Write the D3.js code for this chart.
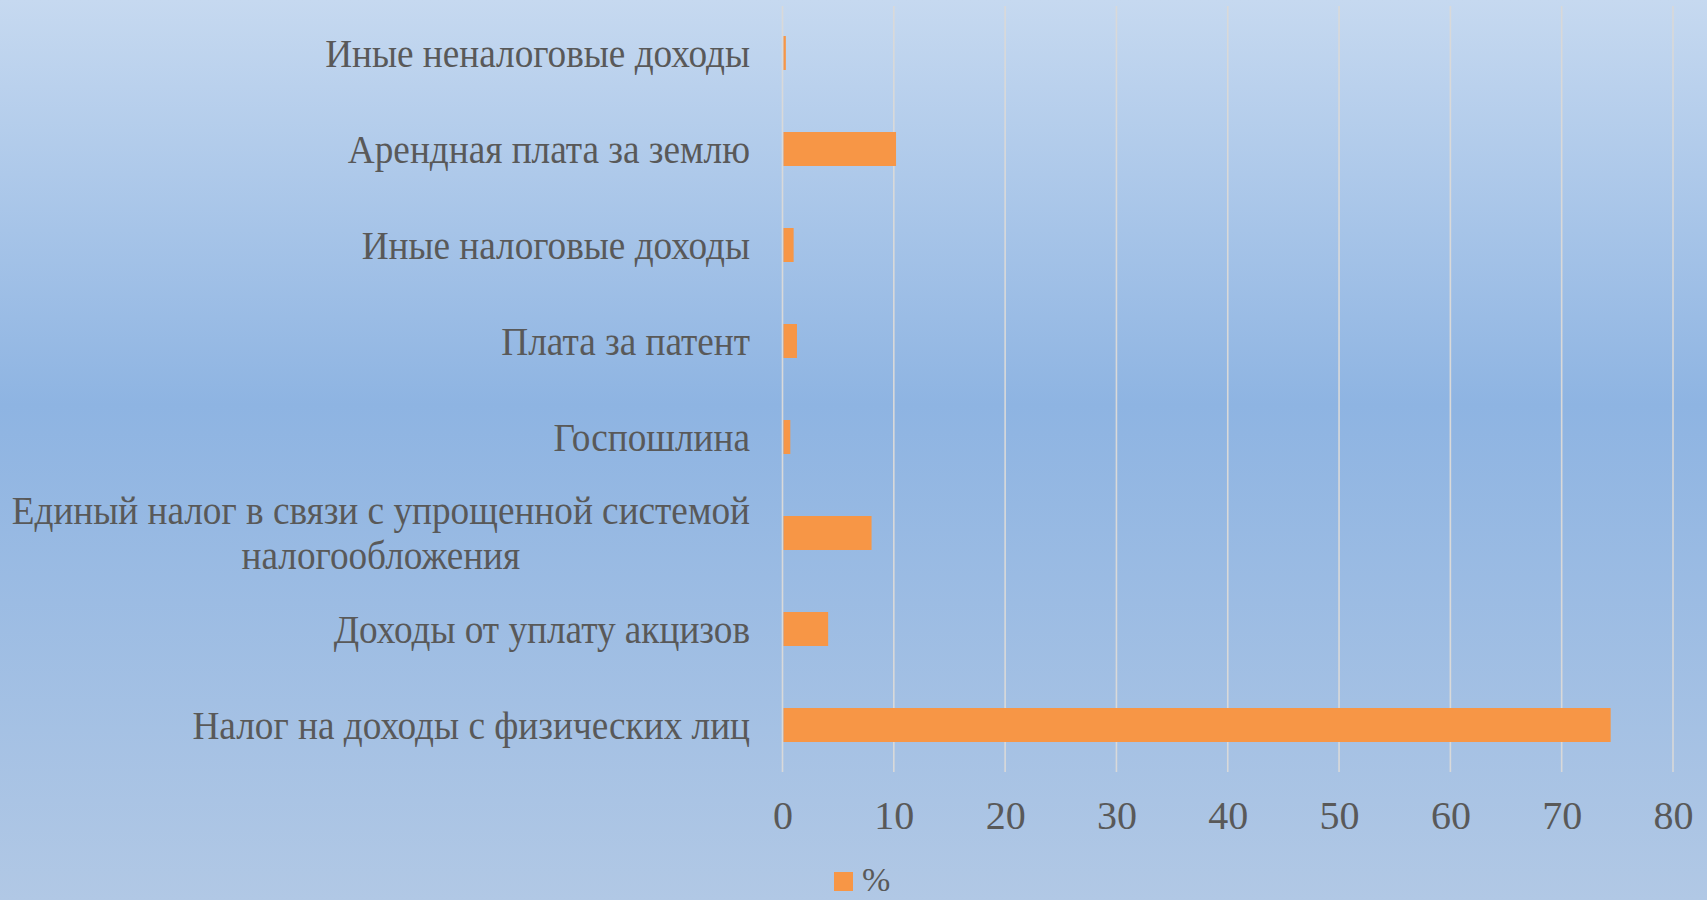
<!DOCTYPE html>
<html>
<head>
<meta charset="utf-8">
<script src="https://cdn.jsdelivr.net/npm/d3@7"></script>
<style>
  html, body { margin: 0; padding: 0; overflow: hidden; }
  .label, .tick text, .legendText { font-family: "Liberation Serif", "Times New Roman", serif; fill: #595959; }
</style>
</head>
<body>
<div class="chart"></div>
<script>
// categories from bottom to top, as in the picture
var categories = [
  "Налог на доходы с физических лиц",
  "Доходы от уплату акцизов",
  "Единый налог в связи с упрощенной системой налогообложения",
  "Госпошлина",
  "Плата за патент",
  "Иные налоговые доходы",
  "Арендная плата за землю",
  "Иные неналоговые доходы"
];
var values = [74.4, 4.1, 8.0, 0.7, 1.3, 1.0, 10.2, 0.3];
var xTicks = [0, 10, 20, 30, 40, 50, 60, 70, 80];
var seriesName = "%";

var svgWidth = 1707;
var svgHeight = 900;

var margin = {
  top: 5,
  right: 34,
  bottom: 127,
  left: 782.5
};

var width = svgWidth - margin.left - margin.right;
var height = svgHeight - margin.top - margin.bottom;

var svg = d3.select(".chart")
  .append("svg")
  .attr("width", svgWidth)
  .attr("height", svgHeight);

// background gradient
var grad = svg.append("defs").append("linearGradient")
  .attr("id", "bg")
  .attr("x1", 0).attr("y1", 0).attr("x2", 0).attr("y2", 1);
grad.append("stop").attr("offset", "0%").attr("stop-color", "#c6d9f0");
grad.append("stop").attr("offset", "45%").attr("stop-color", "#8eb4e2");
grad.append("stop").attr("offset", "100%").attr("stop-color", "#b1c8e5");

svg.append("rect")
  .attr("width", svgWidth)
  .attr("height", svgHeight)
  .attr("fill", "url(#bg)");

var chartGroup = svg.append("g")
  .attr("transform", `translate(${margin.left}, ${margin.top})`);

var data = categories.map(function(c, i) {
  return {cat: c, value: values[i]};
});

var xLinearScale = d3.scaleLinear()
  .domain([0, 80])
  .range([0, width]);

var yBandScale = d3.scaleBand()
  .domain(categories.slice().reverse())
  .range([0, height])
  .paddingInner(0.646)
  .paddingOuter(0.323);

// gridlines
chartGroup.selectAll(".grid")
  .data(xTicks)
  .enter()
  .append("line")
  .attr("class", "grid")
  .attr("x1", d => xLinearScale(d))
  .attr("x2", d => xLinearScale(d))
  .attr("y1", 1)
  .attr("y2", height - 1)
  .attr("stroke", "#d9d9d9")
  .attr("stroke-width", 1.6);

// bars
chartGroup.selectAll(".bar")
  .data(data)
  .enter()
  .append("rect")
  .attr("class", "bar")
  .attr("x", xLinearScale(0) + 1)
  .attr("y", d => yBandScale(d.cat))
  .attr("width", d => xLinearScale(d.value) - xLinearScale(0) - 1)
  .attr("height", yBandScale.bandwidth())
  .attr("fill", "#f79646");

// x axis
var bottomAxis = d3.axisBottom(xLinearScale)
  .tickValues(xTicks)
  .tickSize(0)
  .tickPadding(28);

var xAxis = chartGroup.append("g")
  .attr("transform", `translate(0, ${height})`)
  .call(bottomAxis);
xAxis.select(".domain").remove();
xAxis.selectAll("text")
  .attr("font-size", 40)
  .attr("font-family", null);

// category labels, wrapped and centered as a block
// the original font is a bit narrower than Liberation Serif, so squeeze it
var squeeze = 0.943;
var labelRight = 750 - margin.left;
var maxLabelWidth = 790;
var labelGroup = chartGroup.append("g")
  .attr("transform", `translate(${labelRight}, 0) scale(${squeeze}, 1)`);

var labels = labelGroup.selectAll(".label")
  .data(data)
  .enter()
  .append("text")
  .attr("class", "label")
  .attr("font-size", 39.5);

labels.each(function(d) {
  var el = d3.select(this);
  var words = d.cat.split(" ");
  var lines = [];
  var line = [];
  var tmp = el.append("tspan");
  words.forEach(function(w) {
    line.push(w);
    tmp.text(line.join(" "));
    if (tmp.node().getComputedTextLength() > maxLabelWidth && line.length > 1) {
      line.pop();
      lines.push(line.join(" "));
      line = [w];
    }
  });
  lines.push(line.join(" "));
  tmp.remove();

  var cy = yBandScale(d.cat) + yBandScale.bandwidth() / 2;
  var lineH = 45;
  if (lines.length === 1) {
    el.attr("text-anchor", "end")
      .attr("x", 0)
      .attr("y", cy)
      .attr("dy", "0.35em")
      .text(lines[0]);
  } else {
    var widths = lines.map(function(l) {
      var t = el.append("tspan").text(l);
      var w = t.node().getComputedTextLength();
      t.remove();
      return w;
    });
    var blockW = d3.max(widths);
    var startY = cy - (lines.length - 1) * lineH / 2;
    el.attr("text-anchor", "middle");
    lines.forEach(function(l, i) {
      el.append("tspan")
        .attr("x", -blockW / 2)
        .attr("y", startY + i * lineH)
        .attr("dy", "0.35em")
        .text(l);
    });
  }
});

// legend
var legend = svg.append("g")
  .attr("transform", "translate(834, 872)");
legend.append("rect")
  .attr("width", 19)
  .attr("height", 19)
  .attr("fill", "#f79646");
legend.append("text")
  .attr("class", "legendText")
  .attr("x", 28)
  .attr("y", 19)
  .attr("font-size", 34)
  .text(seriesName);
</script>
</body>
</html>
